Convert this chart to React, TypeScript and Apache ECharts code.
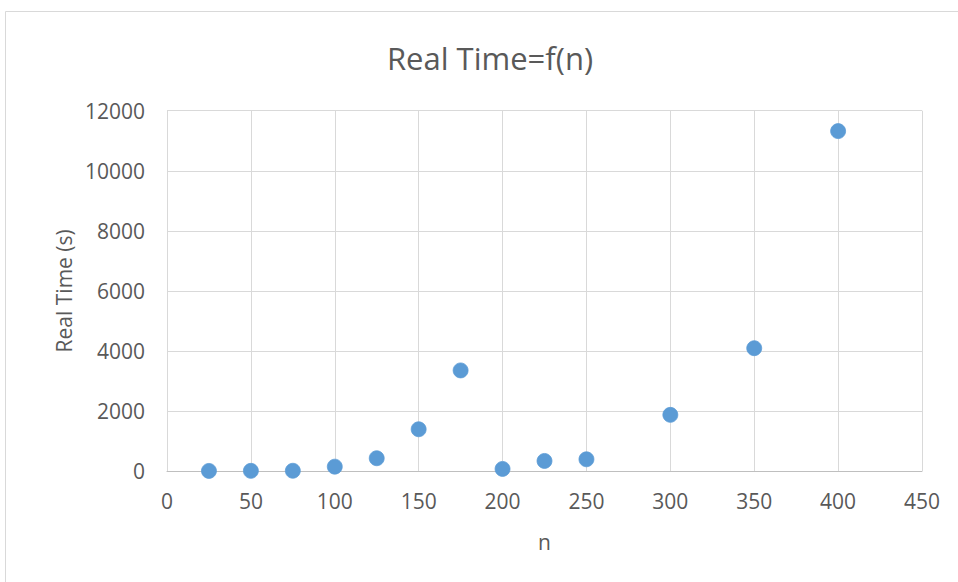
import React, { useEffect, useRef } from "react";
import * as echarts from "echarts";

const nValues = [25, 50, 75, 100, 125, 150, 175, 200, 225, 250, 300, 350, 400];
const realTimes = [3, 5, 8, 145, 425, 1390, 3350, 70, 335, 390, 1870, 4090, 11320];
const titleText = "Real Time=f(n)";
const xName = "n";
const yName = "Real Time (s)";

const FONT = "'Open Sans', 'Noto Sans', sans-serif";
const TEXT = "#595959";

export default function App() {
  const ref = useRef<HTMLDivElement>(null);
  useEffect(() => {
    if (!ref.current) return;
    const chart = echarts.init(ref.current, undefined, { renderer: "svg" });
    chart.setOption({
      animation: false,
      backgroundColor: "#ffffff",
      graphic: [
        {
          type: "rect",
          shape: { x: 5.5, y: 11.5, width: 1000, height: 700 },
          style: { fill: "none", stroke: "#D9D9D9", lineWidth: 1 },
          silent: true,
        },
        {
          type: "text",
          x: 490,
          y: 58,
          style: {
            text: titleText,
            fontSize: 31,
            fontFamily: FONT,
            fill: TEXT,
            align: "center",
            verticalAlign: "middle",
          },
        },
      ],
      grid: { left: 167, top: 110.7, right: 36, bottom: 111 },
      xAxis: {
        type: "value",
        min: 0,
        max: 450,
        interval: 50,
        name: xName,
        nameLocation: "middle",
        nameGap: 60,
        nameTextStyle: { fontSize: 21, color: TEXT, fontFamily: FONT },
        axisLine: { show: true, lineStyle: { color: "#BFBFBF", width: 1 } },
        axisTick: { show: false },
        axisLabel: { fontSize: 21, color: TEXT, fontFamily: FONT, margin: 19 },
        splitLine: { show: true, lineStyle: { color: "#D9D9D9", width: 1 } },
      },
      yAxis: {
        type: "value",
        min: 0,
        max: 12000,
        interval: 2000,
        name: yName,
        nameLocation: "middle",
        nameGap: 93,
        nameTextStyle: { fontSize: 21, color: TEXT, fontFamily: FONT },
        axisLine: { show: false },
        axisTick: { show: false },
        axisLabel: {
          fontSize: 21,
          color: TEXT,
          fontFamily: FONT,
          margin: 22,
          formatter: (v: number) => String(v),
        },
        splitLine: { show: true, lineStyle: { color: "#D9D9D9", width: 1 } },
      },
      series: [
        {
          type: "scatter",
          data: nValues.map((n, i) => [n, realTimes[i]]),
          symbol: "circle",
          symbolSize: 15,
          itemStyle: { color: "#5B9BD5", borderColor: "#5B9BD5", borderWidth: 0.75, opacity: 1 },
        },
      ],
    });
    return () => chart.dispose();
  }, []);
  return (
    <div
      ref={ref}
      style={{ position: "absolute", left: 0, top: 0, width: 958, height: 582 }}
    />
  );
}
